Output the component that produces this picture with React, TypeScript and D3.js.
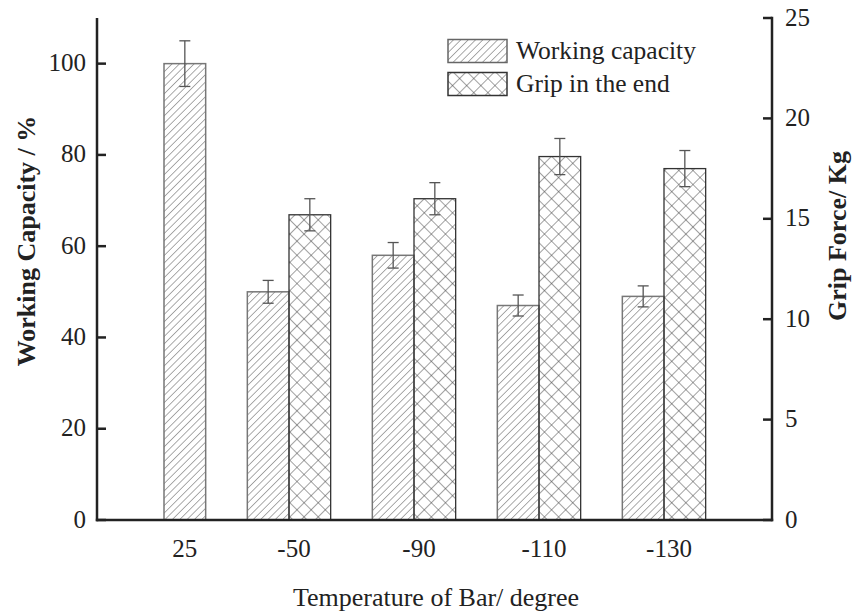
import React from "react";
import { scaleBand, scaleLinear } from "d3";

// categories (bar temperature, degree)
const categories = ["25", "-50", "-90", "-110", "-130"];
// working capacity, % (left axis)
const workingCapacity = [100, 50, 58, 47, 49];
const workingCapacityErr = [5, 2.5, 2.8, 2.3, 2.3];
// grip force at the end, Kg (right axis); none for 25
const gripForce = [null, 15.2, 16.0, 18.1, 17.5];
const gripForceErr = [null, 0.8, 0.8, 0.9, 0.9];

const leftTicks = [0, 20, 40, 60, 80, 100];
const rightTicks = [0, 5, 10, 15, 20, 25];

const W = 853;
const H = 615;
const left = 97;
const right = 772;
const top = 18;
const bottom = 520;

const font = '"Liberation Serif", "Times New Roman", serif';
const ink = "#222";

export default function App() {
  let x0 = scaleBand<string>()
    .domain(categories)
    .range([left, right])
    .paddingInner(0)
    .paddingOuter(0.2)
    .align(0.09);

  let x1 = scaleBand<string>()
    .domain(["wc", "grip"])
    .range([0, x0.bandwidth()])
    .paddingInner(0)
    .paddingOuter(0.5);

  let yL = scaleLinear().domain([0, 110]).range([bottom, top]);
  let yR = scaleLinear().domain([0, 25]).range([bottom, top]);

  const bw = x1.bandwidth();
  const cap = 5.5;

  const errBar = (cx: number, y1: number, y2: number, key: string) => (
    <g key={key} stroke="#555" strokeWidth={1.3}>
      <line x1={cx} x2={cx} y1={y1} y2={y2} />
      <line x1={cx - cap} x2={cx + cap} y1={y1} y2={y1} />
      <line x1={cx - cap} x2={cx + cap} y1={y2} y2={y2} />
    </g>
  );

  return (
    <svg
      width={W}
      height={H}
      style={{ position: "absolute", left: 0, top: 0, background: "#fff" }}
      fontFamily={font}
    >
      <defs>
        <pattern id="hatch" patternUnits="userSpaceOnUse" width={5.2} height={5.2} patternTransform="rotate(45)">
          <line x1={0} y1={0} x2={0} y2={5.2} stroke="#666" strokeWidth={1.1} />
        </pattern>
        <pattern id="cross" patternUnits="userSpaceOnUse" width={10} height={10} patternTransform="rotate(45)">
          <line x1={0} y1={0} x2={0} y2={10} stroke="#444" strokeWidth={1} />
          <line x1={0} y1={0} x2={10} y2={0} stroke="#444" strokeWidth={1} />
        </pattern>
      </defs>

      {/* bars */}
      {categories.map((c, i) => {
        const g0 = x0(c) ?? 0;
        const hasGrip = gripForce[i] != null;
        // single-bar group sits in the right-hand slot, as in the original
        const wcX = g0 + (x1(hasGrip ? "wc" : "grip") ?? 0);
        const gX = g0 + (x1("grip") ?? 0);
        return (
          <g key={c}>
            <rect
              x={wcX}
              y={yL(workingCapacity[i])}
              width={bw}
              height={bottom - yL(workingCapacity[i])}
              fill="url(#hatch)"
              stroke="#777"
              strokeWidth={1.5}
            />
            {hasGrip && (
              <rect
                x={gX}
                y={yR(gripForce[i] as number)}
                width={bw}
                height={bottom - yR(gripForce[i] as number)}
                fill="url(#cross)"
                stroke="#333"
                strokeWidth={1.3}
              />
            )}
          </g>
        );
      })}

      {/* error bars */}
      {categories.map((c, i) => {
        const g0 = x0(c) ?? 0;
        const hasGrip = gripForce[i] != null;
        const wcX = g0 + (x1(hasGrip ? "wc" : "grip") ?? 0) + bw / 2;
        const gX = g0 + (x1("grip") ?? 0) + bw / 2;
        return (
          <g key={"e" + c}>
            {errBar(
              wcX,
              yL(workingCapacity[i] + workingCapacityErr[i]),
              yL(workingCapacity[i] - workingCapacityErr[i]),
              "wc"
            )}
            {hasGrip &&
              errBar(
                gX,
                yR((gripForce[i] as number) + (gripForceErr[i] as number)),
                yR((gripForce[i] as number) - (gripForceErr[i] as number)),
                "gr"
              )}
          </g>
        );
      })}

      {/* axes */}
      <g stroke={ink} strokeWidth={2.5} fill="none">
        <line x1={left} x2={left} y1={top} y2={bottom + 1.2} />
        <line x1={right} x2={right} y1={top - 1.2} y2={bottom + 1.2} />
        <line x1={left - 1.2} x2={right + 1.2} y1={bottom} y2={bottom} />
        {leftTicks.map((t) => (
          <line key={"lt" + t} x1={left} x2={left + 9} y1={yL(t)} y2={yL(t)} />
        ))}
        {rightTicks.map((t) => (
          <line key={"rt" + t} x1={right - 9} x2={right} y1={yR(t)} y2={yR(t)} />
        ))}
      </g>

      {/* tick labels */}
      {leftTicks.map((t) => (
        <text key={"ll" + t} x={86} y={yL(t)} dy="0.3em" textAnchor="end" fontSize={25} fill={ink}>
          {t}
        </text>
      ))}
      {rightTicks.map((t) => (
        <text key={"rl" + t} x={785} y={yR(t)} dy="0.3em" textAnchor="start" fontSize={25} fill={ink}>
          {t}
        </text>
      ))}
      {categories.map((c, i) => {
        const g0 = x0(c) ?? 0;
        const hasGrip = gripForce[i] != null;
        const cx = hasGrip ? g0 + x0.bandwidth() / 2 : g0 + (x1("grip") ?? 0) + bw / 2;
        return (
          <text key={"xl" + c} x={cx + (c.startsWith("-") ? 5 : 0)} y={557} textAnchor="middle" fontSize={25} fill={ink}>
            {c}
          </text>
        );
      })}

      {/* axis titles */}
      <text x={436} y={606} textAnchor="middle" fontSize={26} fill={ink}>
        Temperature of Bar/ degree
      </text>
      <text
        transform={`translate(35, 241) rotate(-90)`}
        textAnchor="middle"
        fontSize={26}
        fontWeight="bold"
        fill={ink}
      >
        Working Capacity / %
      </text>
      <text
        transform={`translate(846, 236) rotate(-90)`}
        textAnchor="middle"
        fontSize={26}
        fontWeight="bold"
        fill={ink}
      >
        Grip Force/ Kg
      </text>

      {/* legend */}
      <rect x={448} y={39.5} width={59} height={23} fill="url(#hatch)" stroke="#666" strokeWidth={1.5} />
      <rect x={448} y={72.5} width={59} height={23} fill="url(#cross)" stroke="#333" strokeWidth={1.5} />
      <text x={516} y={58.5} fontSize={25.5} fill={ink}>
        Working capacity
      </text>
      <text x={516} y={91.5} fontSize={25.5} fill={ink}>
        Grip in the end
      </text>
    </svg>
  );
}
